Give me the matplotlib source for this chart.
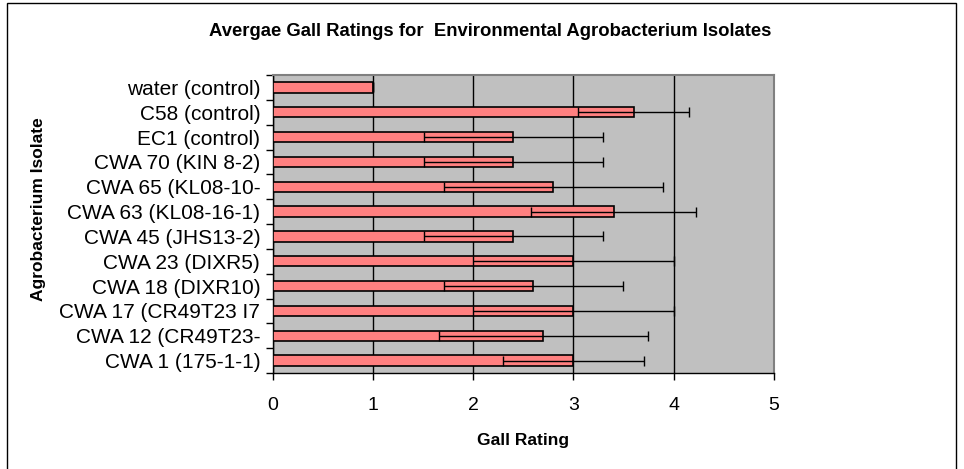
import matplotlib.pyplot as plt
import matplotlib.patches as mpatches
import numpy as np

plt.rcParams['font.family'] = ['Liberation Sans', 'DejaVu Sans']

# isolates listed bottom to top as they appear on the axis
isolates = ["CWA 1 (175-1-1)", "CWA 12 (CR49T23-", "CWA 17 (CR49T23 I7",
            "CWA 18 (DIXR10)", "CWA 23 (DIXR5)", "CWA 45 (JHS13-2)",
            "CWA 63 (KL08-16-1)", "CWA 65 (KL08-10-", "CWA 70 (KIN 8-2)",
            "EC1 (control)", "C58 (control)", "water (control)"]
mean_rating = [3.0, 2.7, 3.0, 2.6, 3.0, 2.4, 3.4, 2.8, 2.4, 2.4, 3.6, 1.0]
sd_rating = [0.7, 1.04, 1.0, 0.89, 1.0, 0.89, 0.82, 1.09, 0.89, 0.89, 0.55, 0.0]

fig = plt.figure(figsize=(9.64, 4.69), dpi=100)
ax = fig.add_axes([0.2829, 0.2047, 0.52, 0.6353])

ypos = np.arange(len(isolates))
ax.barh(ypos, mean_rating, height=0.42, color="#FF8080",
        edgecolor="black", linewidth=1.2, zorder=3)
ax.errorbar(mean_rating, ypos, xerr=sd_rating, fmt="none", ecolor="black",
            elinewidth=1.0, capsize=3.6, capthick=1.0, zorder=4)

ax.set_facecolor("#C0C0C0")
ax.set_xlim(0, 5)
ax.set_ylim(-0.5, len(isolates) - 0.5)
ax.set_xticks(range(6))
ax.set_yticks(ypos)
ax.set_yticklabels(isolates, fontsize=15)
ax.set_yticks(np.arange(-0.5, len(isolates)), minor=True)
ax.tick_params(axis="y", which="major", length=0, pad=9)
ax.tick_params(axis="y", which="minor", length=5, width=1, direction="out")
ax.tick_params(axis="x", length=5, width=1, direction="out",
               labelsize=14, pad=12)
ax.xaxis.grid(True, color="black", linewidth=1.0, zorder=0)
ax.set_axisbelow(True)

for s in ["top", "right"]:
    ax.spines[s].set_color("#808080")
    ax.spines[s].set_linewidth(1.5)
for s in ["left", "bottom"]:
    ax.spines[s].set_color("black")
    ax.spines[s].set_linewidth(1.0)

ax.set_xlabel("Gall Rating", fontsize=12.5, fontweight="bold", labelpad=14)
ax.set_ylabel("Agrobacterium Isolate", fontsize=12.5, fontweight="bold",
              labelpad=10)
ax.yaxis.set_label_coords(-0.452, 0.55)
fig.text(0.508, 0.932, "Avergae Gall Ratings for  Environmental Agrobacterium Isolates",
         ha="center", va="center", fontsize=13.3, fontweight="bold")

# chart border
fig.patches.append(mpatches.Rectangle((7 / 964, -0.02), 949 / 964, 1.014,
                                      transform=fig.transFigure, fill=False,
                                      edgecolor="black", linewidth=1.0))

fig.savefig("out.png", dpi=100)
